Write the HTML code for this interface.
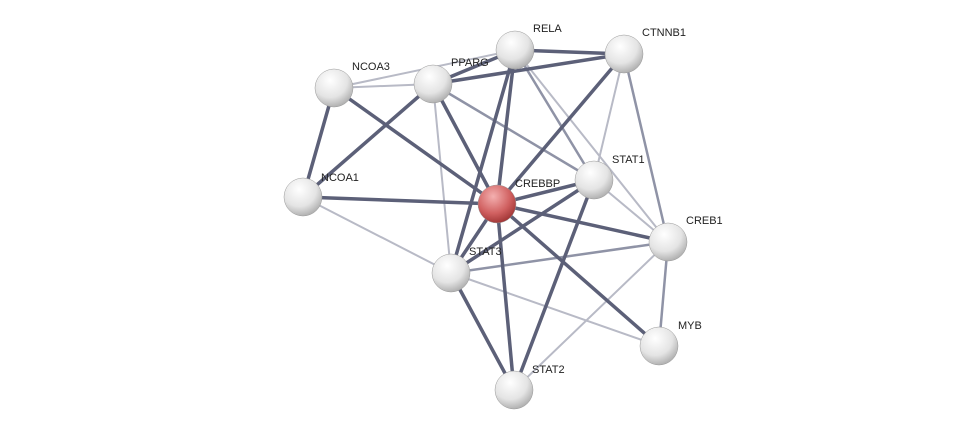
<!DOCTYPE html>
<html><head><meta charset="utf-8"><style>
html,body{margin:0;padding:0;background:#fff;}
svg{display:block;}
text{font-family:"Liberation Sans",sans-serif;font-size:11px;fill:#222;}
</style></head><body>
<svg width="976" height="436" viewBox="0 0 976 436">
<defs>
<radialGradient id="g" cx="40%" cy="30%" r="75%">
<stop offset="0" stop-color="#ffffff"/><stop offset="0.6" stop-color="#e4e4e4"/><stop offset="1" stop-color="#a8a8a8"/>
</radialGradient>
<radialGradient id="r" cx="40%" cy="30%" r="75%">
<stop offset="0" stop-color="#f4b0b0"/><stop offset="0.6" stop-color="#d06060"/><stop offset="1" stop-color="#9a3030"/>
</radialGradient>
</defs>
<g stroke-linecap="round">
<!-- light edges -->
<g stroke="#b8bac6" stroke-width="2">
<line x1="334" y1="88" x2="433" y2="84"/>
<line x1="334" y1="88" x2="515" y2="50"/>
<line x1="433" y1="84" x2="451" y2="273"/>
<line x1="515" y1="50" x2="668" y2="242"/>
<line x1="624" y1="54" x2="594" y2="180"/>
<line x1="303" y1="197" x2="451" y2="273"/>
<line x1="594" y1="180" x2="668" y2="242"/>
<line x1="451" y1="273" x2="659" y2="346"/>
<line x1="668" y1="242" x2="514" y2="390"/>
</g>
<g stroke="#8f93a6" stroke-width="2.5">
<line x1="433" y1="84" x2="594" y2="180"/>
<line x1="515" y1="50" x2="594" y2="180"/>
<line x1="624" y1="54" x2="668" y2="242"/>
<line x1="451" y1="273" x2="668" y2="242"/>
<line x1="668" y1="242" x2="659" y2="346"/>
</g>
<g stroke="#5c6078" stroke-width="3.5">
<line x1="334" y1="88" x2="303" y2="197"/>
<line x1="334" y1="88" x2="497" y2="204"/>
<line x1="433" y1="84" x2="515" y2="50"/>
<line x1="433" y1="84" x2="624" y2="54"/>
<line x1="433" y1="84" x2="303" y2="197"/>
<line x1="433" y1="84" x2="497" y2="204"/>
<line x1="515" y1="50" x2="624" y2="54"/>
<line x1="515" y1="50" x2="497" y2="204"/>
<line x1="515" y1="50" x2="451" y2="273"/>
<line x1="624" y1="54" x2="497" y2="204"/>
<line x1="303" y1="197" x2="497" y2="204"/>
<line x1="497" y1="204" x2="594" y2="180"/>
<line x1="497" y1="204" x2="668" y2="242"/>
<line x1="497" y1="204" x2="451" y2="273"/>
<line x1="497" y1="204" x2="659" y2="346"/>
<line x1="497" y1="204" x2="514" y2="390"/>
<line x1="594" y1="180" x2="451" y2="273"/>
<line x1="594" y1="180" x2="514" y2="390"/>
<line x1="451" y1="273" x2="514" y2="390"/>
</g>
</g>
<g stroke="#999" stroke-width="0.5">
<circle cx="515" cy="50" r="19" fill="url(#g)"/>
<circle cx="624" cy="54" r="19" fill="url(#g)"/>
<circle cx="334" cy="88" r="19" fill="url(#g)"/>
<circle cx="433" cy="84" r="19" fill="url(#g)"/>
<circle cx="303" cy="197" r="19" fill="url(#g)"/>
<circle cx="594" cy="180" r="19" fill="url(#g)"/>
<circle cx="668" cy="242" r="19" fill="url(#g)"/>
<circle cx="451" cy="273" r="19" fill="url(#g)"/>
<circle cx="659" cy="346" r="19" fill="url(#g)"/>
<circle cx="514" cy="390" r="19" fill="url(#g)"/>
<circle cx="497" cy="204" r="19" fill="url(#r)"/>
</g>
<text x="533" y="32">RELA</text>
<text x="642" y="36">CTNNB1</text>
<text x="352" y="70">NCOA3</text>
<text x="451" y="66">PPARG</text>
<text x="321" y="181">NCOA1</text>
<text x="515" y="187">CREBBP</text>
<text x="612" y="163">STAT1</text>
<text x="686" y="224">CREB1</text>
<text x="469" y="255">STAT3</text>
<text x="678" y="329">MYB</text>
<text x="532" y="373">STAT2</text>
</svg>
</body></html>
